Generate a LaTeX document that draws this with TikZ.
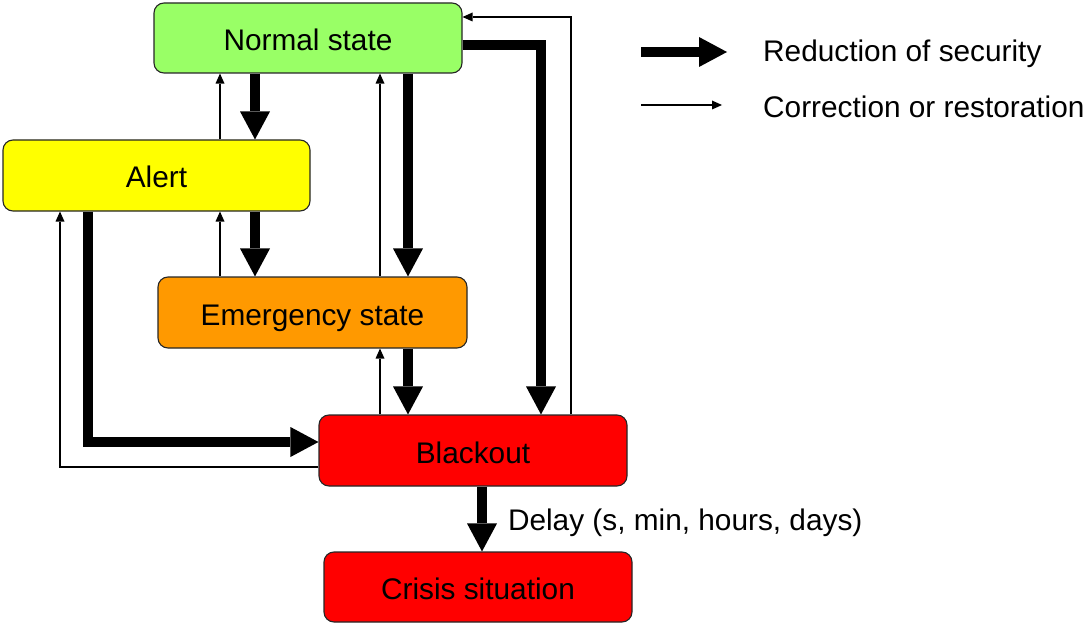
\documentclass[tikz,border=0pt]{standalone}
\usepackage{fontspec}
\setmainfont{Liberation Sans}
\usetikzlibrary{arrows.meta}
\definecolor{cgreen}{HTML}{99FF66}
\definecolor{cyellow}{HTML}{FFFF00}
\definecolor{corange}{HTML}{FF9900}
\definecolor{cred}{HTML}{FF0000}
\tikzset{
  statebox/.style={draw=black!85, line width=1.1pt, rounded corners=10pt, inner sep=0pt,
    minimum width=308pt, minimum height=70pt, text height=25pt, text depth=0pt,
    font=\fontsize{29.8}{34}\selectfont},
  bigarrow/.style={draw=black, line width=10pt, line join=miter,
    -{Triangle[length=28pt,width=30pt,line width=0pt]}},
  smallarrow/.style={draw=black, line width=1.1pt, line join=miter,
    -{Triangle[length=10pt,width=9pt,line width=0pt]}},
  lbl/.style={font=\fontsize{29.8}{34}\selectfont, inner sep=0pt, anchor=west}
}
\begin{document}
\begin{tikzpicture}[x=1pt,y=-1pt]
\useasboundingbox (0,0) rectangle (1085,623);
\node[statebox, fill=cgreen]  (normal) at (308,38)    {Normal state};
\node[statebox, fill=cyellow, minimum width=307pt, minimum height=71pt] (alert) at (156.5,175.5) {Alert};
\node[statebox, fill=corange, minimum width=309pt, minimum height=71pt] (emerg) at (312.5,312.5) {Emergency state};
\node[statebox, fill=cred, minimum height=71pt] (black) at (473,450.5) {Blackout};
\node[statebox, fill=cred] (crisis) at (478,587) {Crisis situation};

% reduction of security
\draw[bigarrow] (normal.south -| 255,0) -- (alert.north -| 255,0);
\draw[bigarrow] (alert.south -| 255,0) -- (emerg.north -| 255,0);
\draw[bigarrow] (normal.south -| 408,0) -- (emerg.north -| 408,0);
\draw[bigarrow] (emerg.south -| 408,0) -- (black.north -| 408,0);
\draw[bigarrow] (normal.east |- 0,45) -| (black.north -| 541,0);
\draw[bigarrow] (alert.south -| 88,0) |- (black.west |- 0,442);
\draw[bigarrow] (black.south -| 482,0) -- node[lbl, xshift=21pt, yshift=-4pt] (delay) {Delay (s, min, hours, days)} (crisis.north -| 482,0);

% correction or restoration
\draw[smallarrow] (alert.north -| 220,0) -- (normal.south -| 220,0);
\draw[smallarrow] (emerg.north -| 220,0) -- (alert.south -| 220,0);
\draw[smallarrow] (emerg.north -| 380,0) -- (normal.south -| 380,0);
\draw[smallarrow] (black.north -| 380,0) -- (emerg.south -| 380,0);
\draw[smallarrow] (black.west |- 0,467) -| (alert.south -| 60,0);
\draw[smallarrow] (black.north -| 571,0) |- (normal.east |- 0,17);

% legend
\coordinate (l1a) at (641,52);
\coordinate (l1b) at (727,52);
\coordinate (l2a) at (641,105);
\coordinate (l2b) at (722,105);
\draw[bigarrow] (l1a) -- (l1b);
\draw[smallarrow] (l2a) -- (l2b);
\node[lbl] (leg1) at (763,54) {Reduction of security};
\node[lbl] (leg2) at (763,107) {Correction or restoration};
\end{tikzpicture}
\end{document}
